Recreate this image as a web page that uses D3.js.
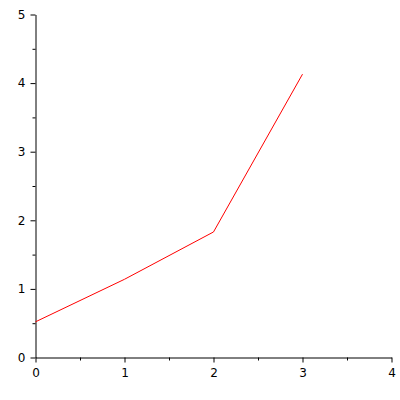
<!DOCTYPE html>
<html>
<head>
<meta charset="UTF-8" />
<title>Chart</title>
<style>
  body { margin: 0; background: #fff; }
  svg { display: block; }
  .tick text { font-family: "DejaVu Sans", sans-serif; font-size: 12px; fill: #000; }
  .domain, .tick line { stroke: #000; }
</style>
<script src="https://cdn.jsdelivr.net/npm/d3@7"></script>
</head>
<body>
<div id="chart"></div>
<script>
  let xValues = [0, 1, 2, 3];
  let yValues = [0.52, 1.14, 1.83, 4.13];
  let xTicks = [0, 1, 2, 3, 4];
  let yTicks = [0, 1, 2, 3, 4, 5];
  let xMinor = [0.5, 1.5, 2.5, 3.5];
  let yMinor = [0.5, 1.5, 2.5, 3.5, 4.5];

  let width = 400, height = 400;
  let svg = d3.select("#chart").append("svg")
    .attr("width", width)
    .attr("height", height);

  let x = d3.scaleLinear().domain([0, 4]).range([35.5, 391.5]);
  let y = d3.scaleLinear().domain([0, 5]).range([357.5, 14.5]);

  // minor ticks
  svg.append("g")
    .attr("transform", "translate(0,357.5)")
    .call(d3.axisBottom(x).tickValues(xMinor).tickFormat("").tickSize(3).tickSizeOuter(0))
    .call(g => g.select(".domain").remove());
  svg.append("g")
    .attr("transform", "translate(35.5,0)")
    .call(d3.axisLeft(y).tickValues(yMinor).tickFormat("").tickSize(3).tickSizeOuter(0))
    .call(g => g.select(".domain").remove());

  // major axes
  svg.append("g")
    .attr("transform", "translate(0,357.5)")
    .call(d3.axisBottom(x).tickValues(xTicks).tickFormat(d3.format("d")).tickSize(5).tickSizeOuter(0).tickPadding(6));
  svg.append("g")
    .attr("transform", "translate(35.5,0)")
    .call(d3.axisLeft(y).tickValues(yTicks).tickFormat(d3.format("d")).tickSize(5).tickSizeOuter(0).tickPadding(5));

  let line = d3.line()
    .x((d, i) => x(xValues[i]))
    .y(d => y(d));

  svg.append("path")
    .datum(yValues)
    .attr("fill", "none")
    .attr("stroke", "#ff0000")
    .attr("stroke-width", 1)
    .attr("d", line);
</script>
</body>
</html>
